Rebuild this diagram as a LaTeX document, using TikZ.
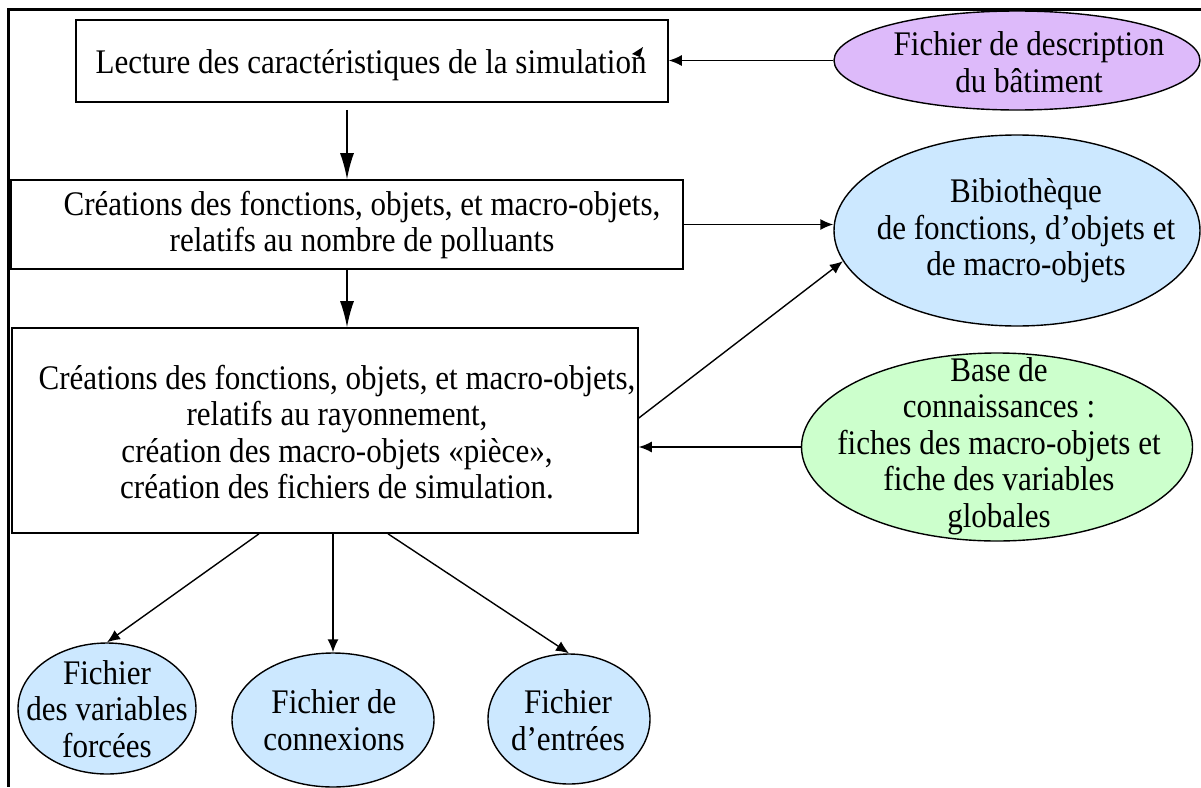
\documentclass[tikz,border=0pt]{standalone}
\usepackage{fontspec}
\setmainfont{Liberation Serif}[FakeStretch=0.9]
\usetikzlibrary{arrows.meta,shapes.geometric}
\definecolor{lilac}{RGB}{221,186,250}
\definecolor{paleblue}{RGB}{204,232,255}
\definecolor{palegreen}{RGB}{204,255,204}
\begin{document}
\begin{tikzpicture}[x=1pt,y=-1pt,
  box/.style={draw, line width=1.6pt, rectangle, inner sep=0pt},
  oval/.style={draw, line width=1.4pt, ellipse, inner sep=0pt},
  txt/.style={align=center, font=\fontsize{34.5}{36.5}\selectfont, inner sep=0pt},
  arr/.style={line width=1.4pt, -{Latex[length=13pt,width=11pt]}},
  bigarr/.style={line width=1.4pt, -{Latex[length=26pt,width=14pt]}}
]
\useasboundingbox (0,0) rectangle (1201,787);
% frame
\draw[line width=3pt] (7,9) -- (1201,9);
\draw[line width=2.2pt] (8.5,8) -- (8.5,787);

% boxes
\node[box, minimum width=592pt, minimum height=82pt] (b1) at (372,61) {};
\node[txt] (b1t) at (371,65) {Lecture des caractéristiques de la simulation};
\node[box, minimum width=672pt, minimum height=89pt] (b2) at (347,224.5) {};
\node[txt] (b2t) at (362,225) {Créations des fonctions, objets, et macro-objets,\\relatifs au nombre de polluants};
\node[box, minimum width=626pt, minimum height=205pt] (b3) at (325,430.5) {};
\node[txt] (b3t) at (337,432) {Créations des fonctions, objets, et macro-objets,\\relatifs au rayonnement,\\création des macro-objets «pièce»,\\création des fichiers de simulation.};

% ellipses
\node[oval, fill=lilac, minimum width=366pt, minimum height=99pt] (purp) at (1017,60.5) {};
\node[txt] (purpt) at (1029,62) {Fichier de description\\du bâtiment};
\node[oval, fill=paleblue, minimum width=366pt, minimum height=191pt] (blib) at (1017,230.5) {};
\node[txt] (blibt) at (1026,231) {Bibiothèque\\de fonctions, d’objets et\\de macro-objets};
\node[oval, fill=palegreen, minimum width=391pt, minimum height=188pt] (green) at (997,447) {};
\node[txt] (greent) at (999,446) {Base de\\connaissances :\\fiches des macro-objets et\\fiche des variables\\globales};
\node[oval, fill=paleblue, minimum width=178pt, minimum height=131pt] (e1) at (107,708.5) {};
\node[txt] (e1t) at (107,709) {Fichier\\des variables\\forcées};
\node[oval, fill=paleblue, minimum width=202pt, minimum height=134pt] (e2) at (333,720) {};
\node[txt] (e2t) at (334,720) {Fichier de\\connexions};
\node[oval, fill=paleblue, minimum width=162pt, minimum height=130pt] (e3) at (569,719) {};
\node[txt] (e3t) at (568,720) {Fichier\\d’entrées};

% stray arrowhead mark
\fill (632,54) -- (643,47) -- (640,57) -- cycle;

% connectors
\draw[arr] (purp.west) -- (purp.west -| b1.east);
\draw[bigarr, shorten <=7pt] (b1.south -| b2.north) -- (b2.north);
\draw[bigarr] (b2.south) -- (b2.south |- b3.north);
\draw[arr] (b2.east) -- (b2.east -| blib.west);
\draw[arr] ([yshift=12.5pt]b3.east) -- (blib.190);
\draw[arr] (green.west) -- (green.west -| b3.east);
\draw[arr] ([xshift=-66pt]b3.south) -- (e1.north);
\draw[arr] (e2.north |- b3.south) -- (e2.north);
\draw[arr] ([xshift=63pt]b3.south) -- (e3.north);
\end{tikzpicture}
\end{document}
